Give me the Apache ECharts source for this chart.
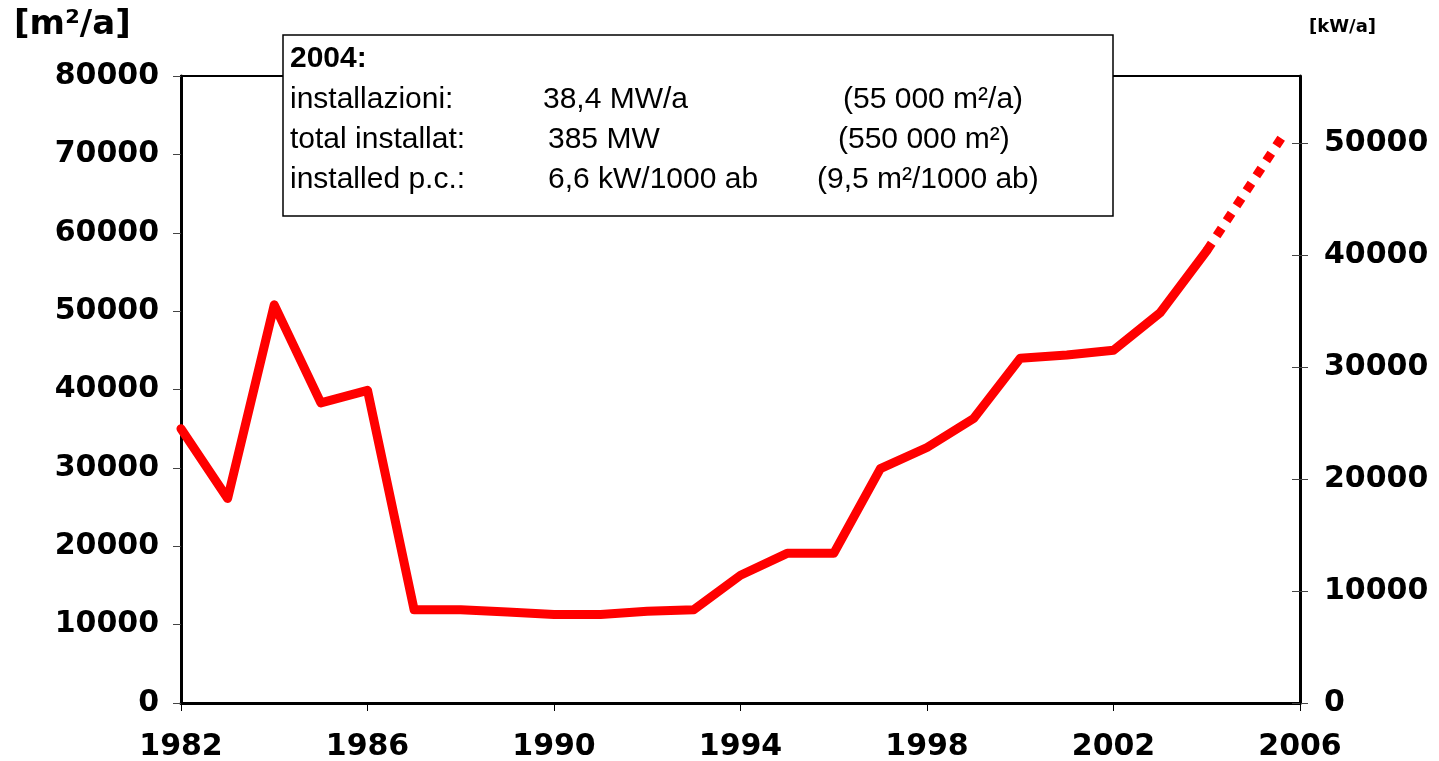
<!DOCTYPE html>
<html lang="it">
<head>
    <meta charset="utf-8">
    <title>Installazioni solari termiche</title>
    <script src="https://cdn.jsdelivr.net/npm/echarts@6/dist/echarts.min.js"></script>
    <style>
        html, body { margin: 0; padding: 0; background: #fff; }
        #chart { width: 1439px; height: 761px; }
    </style>
</head>
<body>
<div id="chart"></div>
<script type="application/javascript">
    // anni e installazioni annue [m2/a]
    var years = [1982, 1983, 1984, 1985, 1986, 1987, 1988, 1989, 1990, 1991, 1992, 1993,
        1994, 1995, 1996, 1997, 1998, 1999, 2000, 2001, 2002, 2003, 2004];
    var installs = [35000, 26100, 50800, 38300, 39900, 11900, 11900, 11600, 11300, 11300, 11700, 11900,
        16300, 19100, 19100, 29900, 32600, 36300, 44000, 44400, 45000, 49800, 57700];
    // proiezione (tratteggiata)
    var projYears = [2004, 2005.7];
    var projInstalls = [57700, 73000];

    var xTicks = [1982, 1986, 1990, 1994, 1998, 2002, 2006];
    var leftTicks = [0, 10000, 20000, 30000, 40000, 50000, 60000, 70000, 80000];
    var rightTicks = [0, 10000, 20000, 30000, 40000, 50000];

    var boxRows = [
        ['installazioni:', '38,4 MW/a', '(55 000 m²/a)'],
        ['total installat:', '385 MW', '(550 000 m²)'],
        ['installed p.c.:', '6,6 kW/1000 ab', '(9,5 m²/1000 ab)']
    ];

    function pairs(xs, ys) {
        var out = [];
        for (var i = 0; i < xs.length; i++) {
            out.push([xs[i], ys[i]]);
        }
        return out;
    }

    function plain(v) {
        return String(Math.round(v));
    }

    var labelFont = {
        fontFamily: 'DejaVu Sans',
        fontWeight: 'bold',
        fontSize: 30,
        color: '#000',
        formatter: plain
    };

    var boxText = [];
    var colX = [[290, 543, 843], [290, 548, 838], [290, 548, 817]];
    boxText.push({
        type: 'text', left: 290, top: 44, z: 101,
        style: { text: '2004:', font: 'bold 30px "Liberation Sans", Arial', fill: '#000' }
    });
    for (var r = 0; r < boxRows.length; r++) {
        for (var c = 0; c < 3; c++) {
            boxText.push({
                type: 'text', left: colX[r][c], top: 85 + r * 40, z: 101,
                style: { text: boxRows[r][c], font: '30px "Liberation Sans", Arial', fill: '#000' }
            });
        }
    }

    var chart = echarts.init(document.getElementById('chart'));
    chart.setOption({
        backgroundColor: '#fff',
        animation: false,
        grid: {
            left: 181, right: 139, top: 76, bottom: 58,
            outerBoundsMode: 'none', containLabel: false,
            show: true, borderColor: '#000', borderWidth: 2
        },
        xAxis: {
            type: 'value',
            min: 1982, max: 2006, interval: 4,
            splitLine: { show: false },
            axisLine: { lineStyle: { color: '#000', width: 3 } },
            axisTick: { show: true, length: 8, lineStyle: { color: '#000', width: 1 }, customValues: xTicks },
            axisLabel: Object.assign({ margin: 29, customValues: xTicks }, labelFont)
        },
        yAxis: [{
            type: 'value',
            min: 0, max: 80000, interval: 10000,
            splitLine: { show: false },
            axisLine: { show: true, lineStyle: { color: '#000', width: 3 } },
            axisTick: { show: true, length: 8, lineStyle: { color: '#444', width: 1 }, customValues: leftTicks },
            axisLabel: Object.assign({ margin: 22, customValues: leftTicks }, labelFont)
        }, {
            type: 'value',
            position: 'right',
            min: 0, max: 56000,
            splitLine: { show: false },
            axisLine: { show: true, lineStyle: { color: '#000', width: 3 } },
            axisTick: { show: true, length: 8, lineStyle: { color: '#444', width: 1 }, customValues: rightTicks },
            axisLabel: Object.assign({ margin: 24, customValues: rightTicks }, labelFont)
        }, {
            // tacche interne dell'asse destro (attraversano la linea)
            type: 'value',
            position: 'right',
            min: 0, max: 56000,
            splitLine: { show: false },
            axisLine: { show: false },
            axisTick: { show: true, inside: true, length: 8, lineStyle: { color: '#444', width: 1 }, customValues: rightTicks },
            axisLabel: { show: false }
        }],
        series: [{
            type: 'line',
            data: pairs(years, installs),
            symbol: 'none',
            z: 3,
            lineStyle: { color: '#ff0000', width: 9, cap: 'round', join: 'round' }
        }, {
            type: 'line',
            data: pairs(projYears, projInstalls),
            symbol: 'none',
            z: 3,
            lineStyle: { color: '#ff0000', width: 9, type: [9, 9], cap: 'butt' }
        }],
        graphic: [{
            type: 'text', left: 14, top: 8,
            style: { text: '[m²/a]', font: 'bold 34px "DejaVu Sans"', fill: '#000' }
        }, {
            type: 'text', left: 1309, top: 18,
            style: { text: '[kW/a]', font: 'bold 18px "DejaVu Sans"', fill: '#000' }
        }, {
            type: 'rect', z: 100,
            shape: { x: 283, y: 35, width: 830, height: 181 },
            style: { fill: '#fff', stroke: '#000', lineWidth: 1.5 }
        }].concat(boxText)
    });
</script>
</body>
</html>
